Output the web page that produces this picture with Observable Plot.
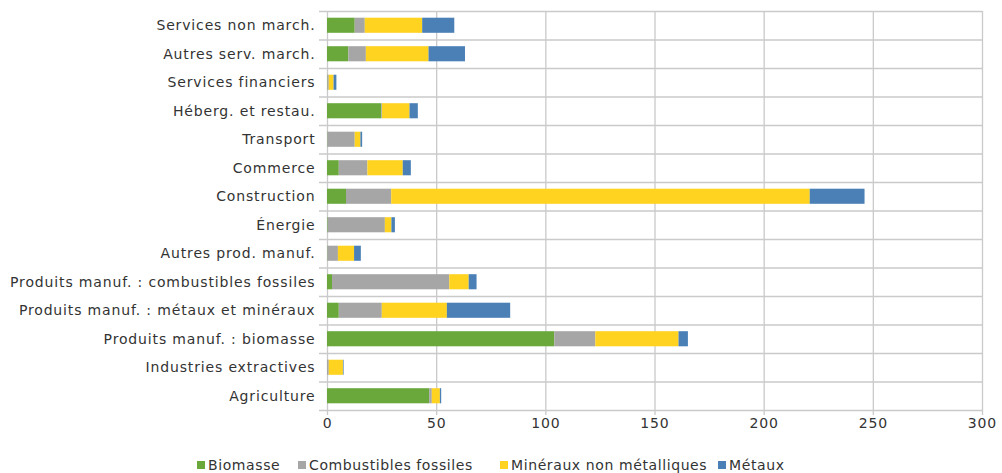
<!DOCTYPE html>
<html>
<head>
<meta charset="utf-8">
<script src="https://cdn.jsdelivr.net/npm/d3@7"></script>
<script src="https://cdn.jsdelivr.net/npm/@observablehq/plot@0.6"></script>
<style>
  html, body { margin: 0; padding: 0; background: #fff; }
  #wrap { position: relative; width: 1002px; height: 473px; font-family: "DejaVu Sans", sans-serif; }
  #chart svg { display: block; }
  #legend { position: absolute; left: 0; top: 456px; width: 1002px; height: 18px; font-size: 14px; letter-spacing: 0.6px; color: #333; white-space: nowrap; }
  #legend .sw { position: absolute; top: 5px; width: 8px; height: 8px; }
  #legend .tx { position: absolute; top: 0; line-height: 18px; }
</style>
</head>
<body>
<div id="wrap"><div id="chart"></div><div id="legend"></div></div>
<script>
const categories = [
  "Services non march.", "Autres serv. march.", "Services financiers", "Héberg. et restau.",
  "Transport", "Commerce", "Construction", "Énergie", "Autres prod. manuf.",
  "Produits manuf. : combustibles fossiles", "Produits manuf. : métaux et minéraux",
  "Produits manuf. : biomasse", "Industries extractives", "Agriculture"
];
const seriesNames = ["Biomasse", "Combustibles fossiles", "Minéraux non métalliques", "Métaux"];
const biomasse = [12.7, 9.8, 0.2, 24.9, 0.2, 5.4, 8.7, 0.3, 0.2, 2.3, 5.4, 104.1, 0, 46.8];
const fossiles = [4.6, 8.0, 0.6, 0.3, 12.5, 13.1, 20.7, 26.2, 4.8, 53.7, 19.7, 18.8, 0.8, 1.2];
const mineraux = [26.3, 28.7, 2.2, 12.6, 2.6, 16.2, 191.7, 3.0, 7.4, 8.9, 29.8, 38.1, 6.5, 3.7];
const metaux = [14.7, 16.7, 1.3, 3.8, 0.8, 3.7, 25.1, 1.6, 3.1, 3.6, 29.0, 4.3, 0.3, 0.6];
const xTicks = [0, 50, 100, 150, 200, 250, 300];
const colors = ["#6aa83c", "#a6a6a6", "#ffd320", "#4a80b6"];

const seriesValues = [biomasse, fossiles, mineraux, metaux];
const table = [];
categories.forEach((c, i) => {
  seriesNames.forEach((s, j) => table.push({cat: c, series: s, value: seriesValues[j][i]}));
});

const W = 1002, H = 440, mt = 11, mb = 30;
const step = (H - mt - mb) / categories.length;
const grid = "#cacaca";

const chart = Plot.plot({
  width: W, height: H,
  marginLeft: 327, marginRight: 20, marginTop: mt, marginBottom: mb,
  style: {fontFamily: "DejaVu Sans, sans-serif", fontSize: "14px", letterSpacing: "0.85px", color: "#333", background: "#fff"},
  x: {domain: [0, 300]},
  y: {domain: categories, paddingInner: 0.47, paddingOuter: 0.235, round: false},
  color: {domain: seriesNames, range: colors},
  marks: [
    Plot.ruleX(xTicks, {x: d => d, stroke: grid, strokeWidth: 1.3, insetBottom: -5}),
    Plot.ruleY(categories, {y: d => d, dy: -step / 2, stroke: grid, strokeWidth: 1.3, insetLeft: -8}),
    Plot.ruleY([categories[categories.length - 1]], {y: d => d, dy: step / 2, stroke: grid, strokeWidth: 1.3, insetLeft: -8}),
    Plot.barX(table, {x: "value", y: "cat", fill: "series", order: seriesNames}),
    Plot.axisX({ticks: xTicks, tickSize: 0, tickPadding: 8, label: null, fill: "#333"}),
    Plot.axisY({tickSize: 0, tickPadding: 12, label: null, fill: "#333"})
  ]
});
document.getElementById("chart").appendChild(chart);

const legend = document.getElementById("legend");
const legendX = [197, 298, 500, 718];
seriesNames.forEach((s, i) => {
  const sw = document.createElement("span");
  sw.className = "sw";
  sw.style.background = colors[i];
  sw.style.left = legendX[i] + "px";
  const t = document.createElement("span");
  t.className = "tx";
  t.textContent = s;
  t.style.left = (legendX[i] + 11) + "px";
  legend.appendChild(sw);
  legend.appendChild(t);
});
</script>
</body>
</html>
